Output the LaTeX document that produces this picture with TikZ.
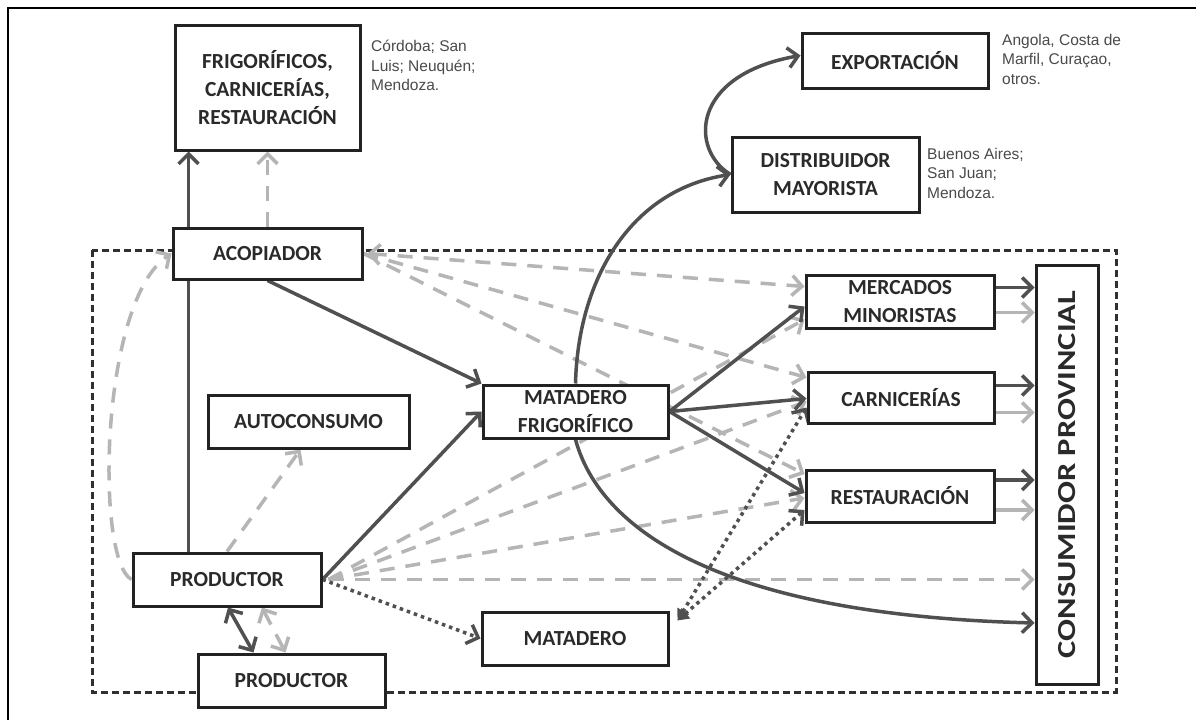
\documentclass[tikz,border=0pt]{standalone}
\usepackage{fontspec}
\usepackage{graphicx}
\setmainfont{Carlito}
\newfontfamily\annotfont{Liberation Sans}
\usetikzlibrary{arrows.meta,calc}
\pgfdeclarelayer{bg}
\pgfsetlayers{bg,main}
\definecolor{darkline}{HTML}{505050}
\definecolor{lightline}{HTML}{B5B5B5}
\definecolor{boxline}{HTML}{222222}
\definecolor{txt}{HTML}{2A2A2A}
\definecolor{annotcol}{HTML}{4A4A4A}
\definecolor{framecol}{HTML}{303030}
\tikzset{
  box/.style={draw=boxline, line width=3pt, fill=white, inner sep=0pt, align=center, text=txt,
    font=\bfseries\fontsize{21.5}{28}\selectfont},
  annot/.style={inner sep=0pt, anchor=north west, align=left, text=annotcol,
    font=\annotfont\fontsize{15.5}{19.5}\selectfont},
  barb/.tip={Straight Barb[length=10pt,width=20pt]},
  darkarr/.style={draw=darkline, line width=3.5pt, -{barb}},
  darkboth/.style={draw=darkline, line width=3.5pt, {barb}-{barb}},
  grayarr/.style={draw=lightline, line width=3.5pt, dash pattern=on 15pt off 11pt, -{barb}},
  grayboth/.style={draw=lightline, line width=3.5pt, dash pattern=on 15pt off 11pt, {barb}-{barb}},
  graysolid/.style={draw=lightline, line width=3.5pt, -{barb}},
  dotarr/.style={draw=darkline, line width=3.5pt, dash pattern=on 3.5pt off 4pt, -{barb}},
  dotboth/.style={draw=darkline, line width=3.5pt, dash pattern=on 3.5pt off 4pt, {Triangle[length=11pt,width=13pt]}-{barb}},
  frameline/.style={draw=framecol, line width=3pt, dash pattern=on 7pt off 4pt},
}
\begin{document}
\begin{tikzpicture}[x=1pt,y=-1pt]
\useasboundingbox (0,0) rectangle (1196,720);
\draw[black, line width=1.5pt] (8,720) -- (8,8) -- (1196,8);

% boxes
\node[box, minimum width=185pt, minimum height=125pt] (frig) at (267.5,87.5) {FRIGORÍFICOS,\\CARNICERÍAS,\\RESTAURACIÓN};
\node[box, minimum width=189pt, minimum height=51pt] (acop) at (267.5,253.5) {ACOPIADOR};
\node[box, minimum width=201pt, minimum height=53pt] (auto) at (308.5,421.5) {AUTOCONSUMO};
\node[box, minimum width=185pt, minimum height=53pt] (mf) at (575.5,411.5) {MATADERO\\FRIGORÍFICO};
\node[box, minimum width=188pt, minimum height=53pt] (prod) at (227,579.5) {PRODUCTOR};
\node[box, minimum width=187pt, minimum height=53pt] (prod2) at (291.5,680.5) {PRODUCTOR};
\node[box, minimum width=186pt, minimum height=53pt] (mat) at (575,638.5) {MATADERO};
\node[box, minimum width=186pt, minimum height=55pt] (exp) at (895,60.5) {EXPORTACIÓN};
\node[box, minimum width=187pt, minimum height=75pt] (dist) at (825.5,174.5) {DISTRIBUIDOR\\MAYORISTA};
\node[box, minimum width=188pt, minimum height=53pt] (merc) at (900,301.5) {MERCADOS\\MINORISTAS};
\node[box, minimum width=186pt, minimum height=51pt] (carn) at (901,397.5) {CARNICERÍAS};
\node[box, minimum width=188pt, minimum height=52pt] (rest) at (900,496) {RESTAURACIÓN};
\node[box, minimum width=62pt, minimum height=419pt] (cons) at (1067,474.5) {};
\node[rotate=90, inner sep=0pt, text=txt, font=\bfseries\fontsize{26}{30}\selectfont] (constext) at (cons.center) {\scalebox{1.25}[1]{CONSUMIDOR PROVINCIAL}};

% annotations
\node[annot] (a1) at (371,40) {Córdoba; San\\Luis; Neuquén;\\Mendoza.};
\node[annot] (a2) at (1002,34) {Angola, Costa de\\Marfil, Curaçao,\\otros.};
\node[annot] (a3) at (927,148) {Buenos Aires;\\San Juan;\\Mendoza.};

\begin{pgfonlayer}{bg}
\fill[white] (0,0) rectangle (1196,720);
\draw[frameline] (92,250) rectangle (1116,692);
% light grey dashed flows
\draw[grayarr] (prod.west) .. controls (95,560) and (100,300) .. (acop.west);
\draw[grayarr] (acop.north) -- (frig.south);
\draw[grayarr] (prod.north) -- ($(auto.south)+(-8,0)$);
\draw[grayarr] ($(prod.east)+(6,0)$) -- ($(merc.south west)+(0,-10)$);
\draw[grayarr] ($(prod.east)+(6,0)$) -- ($(carn.west)+(0,4)$);
\draw[grayarr] ($(prod.east)+(6,0)$) -- ($(rest.west)+(0,2)$);
\draw[grayarr] ($(prod.east)+(6,0)$) -- (prod.east -| cons.west);
\draw[grayboth] ($(acop.east)+(4,0)$) -- ($(merc.west)+(0,-15)$);
\draw[grayarr] (acop.east) -- ($(carn.west)+(0,-20)$);
\draw[grayarr] (acop.east) -- ($(rest.west)+(0,-22)$);
\draw[grayboth] ($(prod.south)+(35,0)$) -- ($(prod2.north)+(-6,0)$);
\draw[graysolid] ($(merc.east)+(0,11)$) -- ($(merc.east -| cons.west)+(0,11)$);
\draw[graysolid] ($(carn.east)+(0,15)$) -- ($(carn.east -| cons.west)+(0,15)$);
\draw[graysolid] ($(rest.east)+(0,14)$) -- ($(rest.east -| cons.west)+(0,14)$);
% dark solid flows
\draw[darkarr] ($(prod.north west)+(57,0)$) -- ($(frig.south west)+(15,0)$);
\draw[darkarr] (acop.south) -- (mf.north west);
\draw[darkarr] (prod.east) -- (mf.west);
\draw[darkarr] (mf.east) -- ($(merc.south west)+(0,-23)$);
\draw[darkarr] (mf.east) -- ($(carn.west)+(0,1)$);
\draw[darkarr] (mf.east) -- ($(rest.west)+(0,-3)$);
\draw[darkarr] (mf.north) .. controls (578,280) and (630,190) .. (dist.west);
\draw[darkarr] (dist.west) .. controls (690,150) and (690,75) .. ($(exp.west)+(0,-5)$);
\draw[darkarr] (mf.south) .. controls (600,530) and (720,615) .. ($(cons.west)+(0,148.5)$);
\draw[darkarr] ($(merc.east)+(0,-14)$) -- ($(merc.east -| cons.west)+(0,-14)$);
\draw[darkarr] ($(carn.east)+(0,-12)$) -- ($(carn.east -| cons.west)+(0,-12)$);
\draw[darkarr] ($(rest.east)+(0,-16)$) -- ($(rest.east -| cons.west)+(0,-16)$);
\draw[darkboth] ($(prod.south)+(1,0)$) -- ($(prod2.north)+(-38,0)$);
% dotted flows
\draw[dotarr] (prod.east) -- (mat.west);
\draw[dotboth] ($(mat.north east)+(8,10)$) -- ($(carn.west)+(0,10)$);
\draw[dotboth] ($(mat.north east)+(8,10)$) -- ($(rest.west)+(0,14)$);
\end{pgfonlayer}
\end{tikzpicture}
\end{document}
